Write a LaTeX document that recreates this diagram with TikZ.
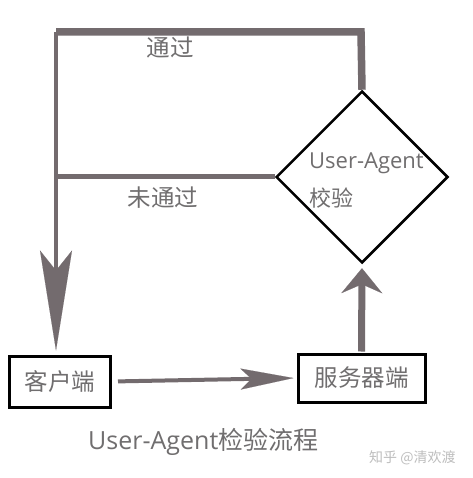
\documentclass[tikz,border=0pt]{standalone}
\usepackage{fontspec}
\setmainfont{Open Sans}
\newfontfamily\cjk{Noto Sans CJK SC}
\usetikzlibrary{arrows.meta,shapes.geometric}
\definecolor{linegray}{RGB}{115,107,110}
\definecolor{textgray}{RGB}{112,110,111}
\definecolor{markgray}{RGB}{190,190,190}
\begin{document}
\begin{tikzpicture}[x=1pt,y=-1pt,
  flow/.style={draw=linegray, line join=miter},
  boxnode/.style={draw=black, line width=3pt, rectangle, inner sep=0pt, text=textgray, font=\cjk\fontsize{23.5}{26}\selectfont},
  lbl/.style={text=textgray, inner sep=0pt, font=\cjk\fontsize{23.5}{26}\selectfont},
  downtip/.style={-{Stealth[length=100pt, width=32pt, inset=20pt, line width=0.1pt]}},
  righttip/.style={-{Stealth[length=53pt, width=21pt, inset=11pt, line width=0.1pt]}},
  uptip/.style={-{Stealth[length=25pt, width=41pt, inset=9pt, line width=0.1pt]}}
]
\useasboundingbox[fill=white] (0,0) rectangle (472,478);

% nodes
\node[boxnode, minimum width=101pt, minimum height=51pt] (client) at (60,381.5) {客户端};
\node[boxnode, minimum width=127pt, minimum height=48pt] (server) at (361.5,378) {服务器端};
\node[diamond, draw=black, line width=2.5pt, inner sep=0pt, minimum width=172pt, minimum height=172pt] (check) at (362,177) {};
\node[text=textgray, inner sep=0pt, anchor=west, align=left, font=\fontsize{22}{38}\selectfont] (checklabel) at (309,181) {User-Agent\\{\cjk 校验}};

\coordinate (tr) at (361,32);
\coordinate (tl) at (56,32);

% connectors
\draw[flow, line width=7.5pt] (check.north) -- (tr) -- (tl);
\draw[flow, line width=4.5pt, downtip, shorten >=4pt] (tl) -- (tl |- client.north);
\draw[flow, line width=5pt] (check.west) -- (tl |- check.west);
\draw[flow, line width=4pt, righttip, shorten <=6pt, shorten >=3pt] (client.east) -- (server.west);
\draw[flow, line width=7pt, uptip, shorten <=1pt, shorten >=4pt] (server.north) -- (check.south);

% labels
\node[lbl] (pass) at (170,47) {通过};
\node[lbl] (fail) at (163,198) {未通过};
\node[text=textgray, inner sep=0pt, anchor=west, font=\fontsize{25}{28}\selectfont] (caption) at (88,442) {User-Agent{\cjk 检验流程}};
\node[text=markgray, inner sep=0pt, anchor=west, font=\cjk\fontsize{14}{16}\selectfont] (mark) at (369,458) {知乎 @清欢渡};
\end{tikzpicture}
\end{document}
